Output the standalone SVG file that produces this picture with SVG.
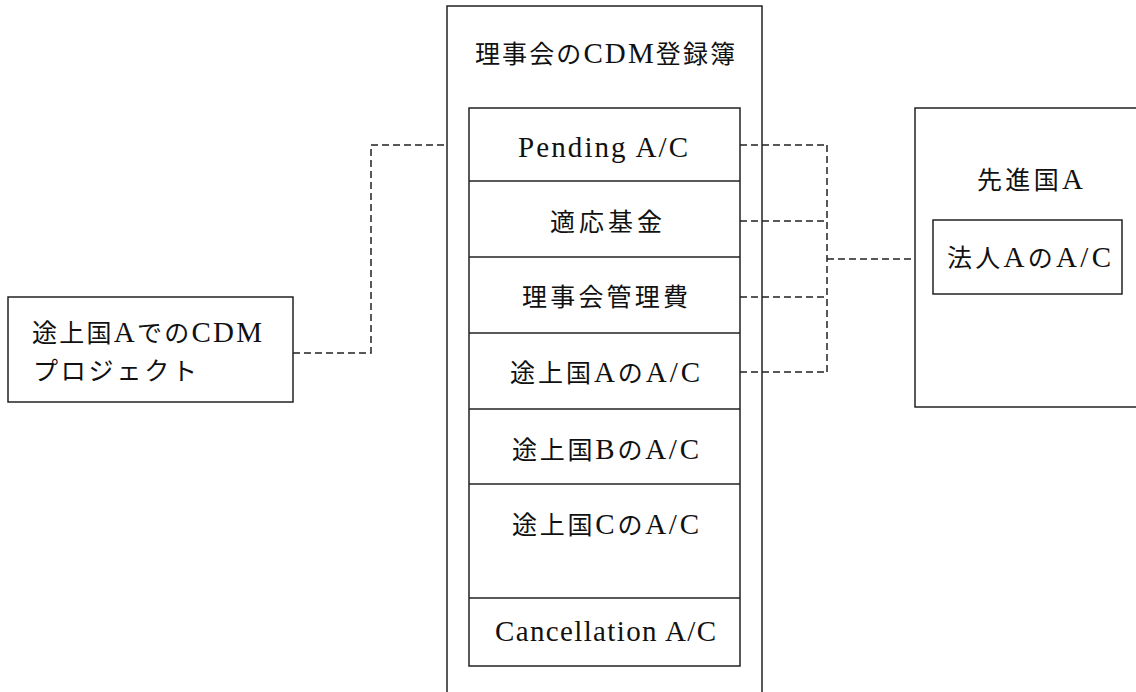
<svg xmlns="http://www.w3.org/2000/svg" width="1136" height="692" viewBox="0 0 1136 692">
<style>
.box{fill:#fff;stroke:#222;stroke-width:1.5}
.ln{fill:none;stroke:#222;stroke-width:1.5}
.dash{fill:none;stroke:#222;stroke-width:1.5;stroke-dasharray:7 4}
text{font-family:"Liberation Serif","Noto Sans CJK JP",serif;font-size:25px;fill:#111}
.l{font-size:29px}
</style>
<rect width="1136" height="692" fill="#fff"/>
<g id="registry">
<rect class="box" x="447" y="6" width="315" height="700"/>
<text x="475" y="63" textLength="260" lengthAdjust="spacing">理事会の<tspan class="l">CDM</tspan>登録簿</text>
<rect class="box" x="469" y="108" width="271" height="558"/>
<line class="ln" x1="469" y1="181" x2="740" y2="181"/>
<line class="ln" x1="469" y1="257" x2="740" y2="257"/>
<line class="ln" x1="469" y1="333" x2="740" y2="333"/>
<line class="ln" x1="469" y1="409" x2="740" y2="409"/>
<line class="ln" x1="469" y1="484" x2="740" y2="484"/>
<line class="ln" x1="469" y1="598" x2="740" y2="598"/>
</g>
<g id="pending"><text class="l" x="518" y="157" textLength="170" lengthAdjust="spacing">Pending A/C</text></g>
<g id="adaptation"><text x="550" y="231" textLength="112" lengthAdjust="spacing">適応基金</text></g>
<g id="admin"><text x="522" y="306" textLength="166" lengthAdjust="spacing">理事会管理費</text></g>
<g id="devA"><text x="510" y="382" textLength="190" lengthAdjust="spacing">途上国<tspan class="l">A</tspan>の<tspan class="l">A/C</tspan></text></g>
<g id="devB"><text x="512" y="459" textLength="187" lengthAdjust="spacing">途上国<tspan class="l">B</tspan>の<tspan class="l">A/C</tspan></text></g>
<g id="devC"><text x="512" y="534" textLength="187" lengthAdjust="spacing">途上国<tspan class="l">C</tspan>の<tspan class="l">A/C</tspan></text></g>
<g id="cancel"><text class="l" x="495" y="641" textLength="221" lengthAdjust="spacing">Cancellation A/C</text></g>
<g id="project">
<rect class="box" x="8" y="297" width="285" height="105"/>
<text x="32" y="342" textLength="230" lengthAdjust="spacing">途上国<tspan class="l">A</tspan>での<tspan class="l">CDM</tspan></text>
<text x="33" y="380" textLength="164" lengthAdjust="spacing">プロジェクト</text>
</g>
<g id="developed">
<rect class="box" x="915" y="108" width="230" height="299"/>
<text x="977" y="189" textLength="106" lengthAdjust="spacing">先進国<tspan class="l">A</tspan></text>
</g>
<g id="entity">
<rect class="box" x="933" y="220" width="189" height="74"/>
<text x="947" y="267" textLength="164" lengthAdjust="spacing">法人<tspan class="l">A</tspan>の<tspan class="l">A/C</tspan></text>
</g>
<g id="connectors">
<polyline class="dash" points="293,353 371,353 371,145 446,145"/>
<line class="dash" x1="740" y1="145" x2="827" y2="145"/>
<line class="dash" x1="740" y1="221" x2="827" y2="221"/>
<line class="dash" x1="740" y1="297" x2="827" y2="297"/>
<line class="dash" x1="740" y1="372" x2="827" y2="372"/>
<line class="dash" x1="827" y1="145" x2="827" y2="372"/>
<line class="dash" x1="827" y1="259" x2="915" y2="259"/>
</g>
</svg>
